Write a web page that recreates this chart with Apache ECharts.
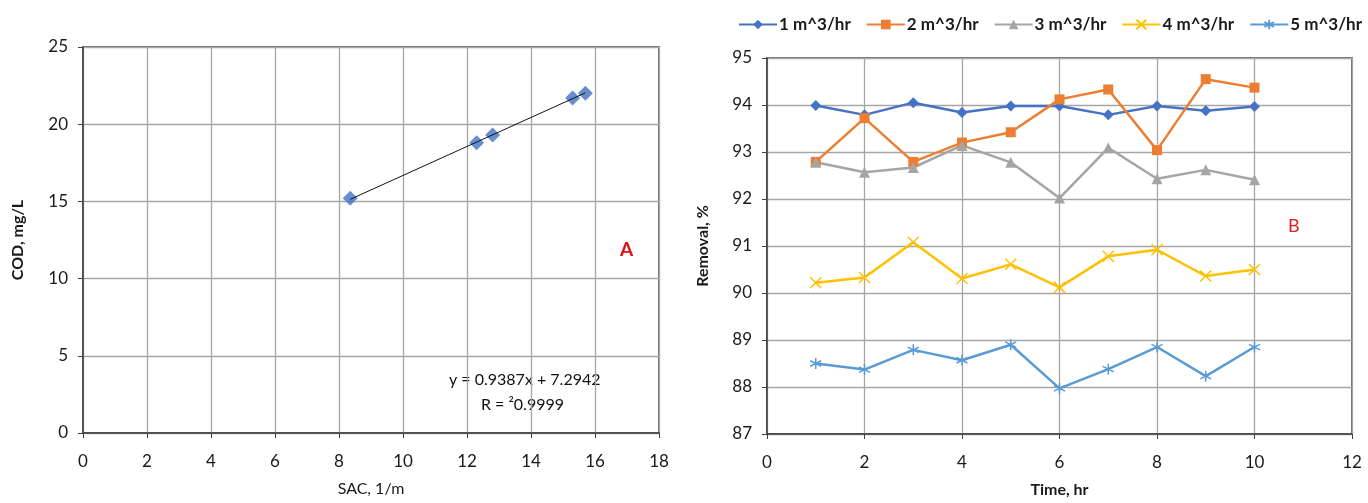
<!DOCTYPE html>
<html><head><meta charset="utf-8">
<script src="https://cdn.jsdelivr.net/npm/echarts@6/dist/echarts.min.js"></script>
<style>html,body{margin:0;padding:0;background:#fff}#c{width:1368px;height:503px}</style>
</head><body><div id="c"></div>
<script>
// ---- Chart A data ----
const sacValues = [8.35, 12.3, 12.8, 15.3, 15.7];
const codValues = [15.2, 18.8, 19.3, 21.7, 22.0];
const trendSlope = [0.9387];
const trendIntercept = [7.2942];
const equationLines = ['y = 0.9387x + 7.2942', 'R = ²0.9999'];
// ---- Chart B data ----
const timeHours = [1, 2, 3, 4, 5, 6, 7, 8, 9, 10];
const seriesNames = ['1 m^3/hr', '2 m^3/hr', '3 m^3/hr', '4 m^3/hr', '5 m^3/hr'];
const flow1 = [93.99, 93.79, 94.05, 93.84, 93.98, 93.98, 93.79, 93.98, 93.88, 93.97];
const flow2 = [92.79, 93.72, 92.79, 93.20, 93.42, 94.12, 94.33, 93.04, 94.55, 94.37];
const flow3 = [92.78, 92.57, 92.67, 93.14, 92.78, 92.02, 93.09, 92.43, 92.62, 92.41];
const flow4 = [90.22, 90.33, 91.08, 90.31, 90.61, 90.12, 90.78, 90.92, 90.36, 90.50];
const flow5 = [88.50, 88.37, 88.79, 88.57, 88.90, 87.97, 88.38, 88.85, 88.23, 88.85];

const FONT = 'Lato, "Open Sans", sans-serif';
const colors = ['#4472C4', '#ED7D31', '#A5A5A5', '#FFC000', '#5B9BD5'];
const symbols = ['diamond', 'rect', 'triangle',
  'path://M0,0L10,10M10,0L0,10',
  'path://M5,0L5,10M0,2.5L10,7.5M0,7.5L10,2.5'];
const flows = [flow1, flow2, flow3, flow4, flow5];

const chart = echarts.init(document.getElementById('c'), null, {renderer: 'canvas'});

const xMin = Math.min(...sacValues), xMax = Math.max(...sacValues);
const trend = [[xMin, trendSlope[0] * xMin + trendIntercept[0]], [xMax, trendSlope[0] * xMax + trendIntercept[0]]];

const axisLabel = {color: '#1a1a1a', fontFamily: FONT, fontSize: 17, margin: 20};
const nameStyle = {color: '#1a1a1a', fontFamily: FONT, fontSize: 16, fontWeight: 'bold'};
const split = {show: true, lineStyle: {color: '#a6a6a6', width: 1.3}};
const axisLine = {show: true, lineStyle: {color: '#404040', width: 1.5}};
const tick = {show: true, length: 5, lineStyle: {color: '#404040'}};

const lineSeries = flows.map((d, i) => ({
  name: seriesNames[i], type: 'line', xAxisIndex: 1, yAxisIndex: 1,
  data: timeHours.map((t, j) => [t, d[j]]),
  symbol: symbols[i], symbolSize: i === 1 ? 10 : 11,
  lineStyle: {color: colors[i], width: 2.5},
  itemStyle: {color: colors[i], borderColor: colors[i], borderWidth: i >= 3 ? 1.5 : 0},
  animation: false
}));

chart.setOption({
  animation: false,
  textStyle: {fontFamily: FONT},
  grid: [
    {left: 83, top: 47, width: 576, height: 386, show: true, borderColor: '#404040', borderWidth: 1.5},
    {left: 767, top: 58, width: 585, height: 380, show: true, borderColor: '#404040', borderWidth: 1.5}
  ],
  legend: {
    data: seriesNames, left: 733, top: 11, itemWidth: 38, itemHeight: 12, itemGap: 15,
    textStyle: {fontFamily: FONT, fontSize: 17, fontWeight: 'bold', color: '#1a1a1a', padding: [0, 0, 0, -3]}
  },
  xAxis: [
    {gridIndex: 0, type: 'value', min: 0, max: 18, interval: 2, name: 'SAC, 1/m', nameLocation: 'middle', nameGap: 48,
     nameTextStyle: Object.assign({}, nameStyle, {fontWeight: 'normal'}), axisLabel, splitLine: split, axisLine, axisTick: tick},
    {gridIndex: 1, type: 'value', min: 0, max: 12, interval: 2, name: 'Time, hr', nameLocation: 'middle', nameGap: 48,
     nameTextStyle: nameStyle, axisLabel, splitLine: split, axisLine, axisTick: tick}
  ],
  yAxis: [
    {gridIndex: 0, type: 'value', min: 0, max: 25, interval: 5, name: 'COD, mg/L', nameLocation: 'middle', nameGap: 57,
     nameTextStyle: nameStyle, axisLabel: Object.assign({}, axisLabel, {margin: 15}), splitLine: split, axisLine, axisTick: tick},
    {gridIndex: 1, type: 'value', min: 87, max: 95, interval: 1, name: 'Removal, %', nameLocation: 'middle', nameGap: 56,
     nameTextStyle: nameStyle, axisLabel: Object.assign({}, axisLabel, {margin: 15}), splitLine: split, axisLine, axisTick: tick}
  ],
  series: [
    {type: 'line', xAxisIndex: 0, yAxisIndex: 0, data: trend, symbol: 'none',
     lineStyle: {color: '#111', width: 1}, silent: true},
    {type: 'scatter', xAxisIndex: 0, yAxisIndex: 0, data: sacValues.map((x, i) => [x, codValues[i]]),
     symbol: 'diamond', symbolSize: 15, itemStyle: {color: '#4472C4'}},
    ...lineSeries
  ],
  graphic: [
    {type: 'text', left: 449, top: 372, style: {text: equationLines[0], font: '16px ' + FONT, fill: '#111'}},
    {type: 'text', left: 481, top: 397, style: {text: equationLines[1], font: '16px ' + FONT, fill: '#111'}},
    {type: 'text', left: 620, top: 240, style: {text: 'A', font: 'bold 19px ' + FONT, fill: '#e01010'}},
    {type: 'text', left: 1288, top: 217, style: {text: 'B', font: '18px ' + FONT, fill: '#e02020'}}
  ]
});
</script></body></html>
